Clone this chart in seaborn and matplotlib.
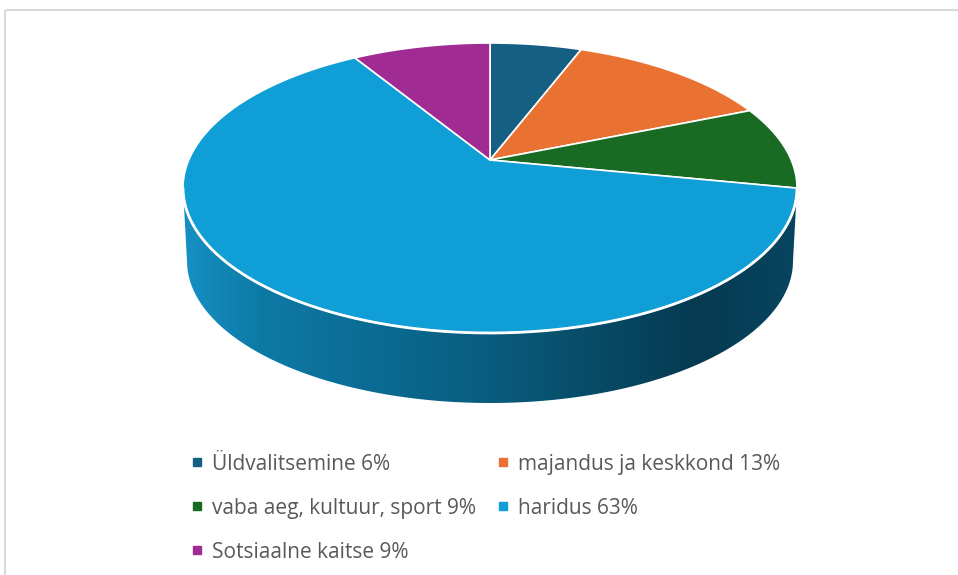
import numpy as np
import matplotlib.pyplot as plt
import seaborn as sns
from matplotlib.patches import Polygon, Rectangle
from matplotlib.lines import Line2D
from matplotlib.colors import LinearSegmentedColormap

categories = ["Üldvalitsemine", "majandus ja keskkond",
              "vaba aeg, kultuur, sport", "haridus", "Sotsiaalne kaitse"]
shares = [6, 13, 9, 63, 9]
colors = ["#156082", "#E97132", "#196B24", "#0F9ED5", "#A02B93"]

sns.set_theme(style="white")
plt.rcParams['font.family'] = ['Open Sans', 'DejaVu Sans']

fig = plt.figure(figsize=(9.58, 5.75), dpi=100)
ax = fig.add_axes([0, 0, 1, 1])
ax.set_xlim(0, 958)
ax.set_ylim(575, 0)
ax.axis('off')

# tilted disc geometry (pixel units), top face and bottom face
cx, cy, a, b = 490, 188, 307, 145
apex = np.array([490.0, 160.0])
tilt = 0.48
cy2, a2, b2 = 261, 303, 142


def rim_point(theta):
    # ray from the apex in the perspective direction of angle theta
    d = np.array([np.sin(theta), -tilt * np.cos(theta)])
    p = apex - np.array([cx, cy])
    A = (d[0] / a)**2 + (d[1] / b)**2
    B = 2 * (p[0] * d[0] / a**2 + p[1] * d[1] / b**2)
    C = (p[0] / a)**2 + (p[1] / b)**2 - 1
    t = (-B + np.sqrt(B * B - 4 * A * C)) / (2 * A)
    return apex + t * d


# side band with horizontal shading
phi = np.linspace(0, np.pi, 300)
top_front = np.c_[cx + a * np.cos(phi), cy + b * np.sin(phi)]
bot_front = np.c_[cx + a2 * np.cos(phi), cy2 + b2 * np.sin(phi)]
side = Polygon(np.vstack([top_front, bot_front[::-1]]), closed=True,
               facecolor='none', edgecolor='none')
ax.add_patch(side)

stops = [(183, "#1690c4"), (260, "#0d7aa6"), (490, "#095c7e"),
         (700, "#053a50"), (797, "#074560")]
x0, x1 = stops[0][0], stops[-1][0]
cmap = LinearSegmentedColormap.from_list(
    "side", [((x - x0) / (x1 - x0), c) for x, c in stops])
grad = np.linspace(0, 1, 512)[None, :]
im = ax.imshow(grad, cmap=cmap, aspect='auto',
               extent=[x0, x1, cy2 + b2 + 2, cy - 5], zorder=1)
im.set_clip_path(side)

# top face slices
fracs = np.array(shares) / np.sum(shares)
edges = np.concatenate([[0], np.cumsum(fracs)]) * 2 * np.pi
for i, col in enumerate(colors):
    th = np.linspace(edges[i], edges[i + 1], 200)
    pts = np.array([rim_point(t) for t in th])
    poly = np.vstack([apex, pts])
    ax.add_patch(Polygon(poly, closed=True, facecolor=col,
                         edgecolor='white', lw=1.2, zorder=2,
                         joinstyle='round'))

# white highlight on the front rim
ax.plot(top_front[:, 0], top_front[:, 1], color='white', lw=2, zorder=3)

# light frame of the chart area (only top and left are visible)
ax.add_patch(Rectangle((5.5, 9.5), 1200, 1200, fill=False,
                       edgecolor='#d9d9d9', lw=1.5, clip_on=False))

# legend, row-wise order in two columns
order = [0, 2, 4, 1, 3]
handles = [Line2D([], [], marker='s', linestyle='', color=colors[i],
                  markersize=6) for i in order]
labels = [f"{categories[i]} {shares[i]}%" for i in order]
fig.legend(handles, labels, ncol=2, loc='upper left',
           bbox_to_anchor=(0.200, 0.211), frameon=False, fontsize=15,
           labelcolor='#595959', handlelength=0.55, handletextpad=0.45,
           columnspacing=1.0, labelspacing=1.1, borderaxespad=0,
           borderpad=0)

fig.savefig('out.png', dpi=100)
